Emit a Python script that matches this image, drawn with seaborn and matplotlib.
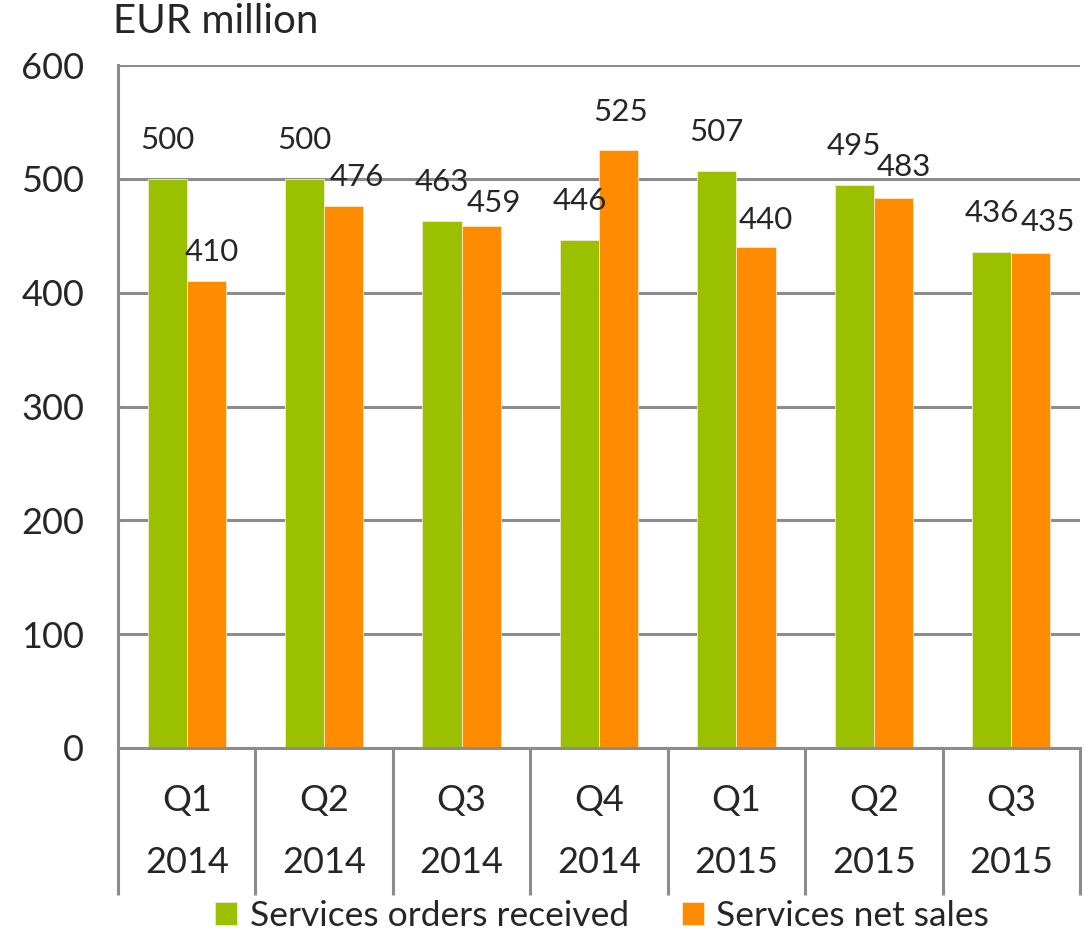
import numpy as np
import pandas as pd
import seaborn as sns
import matplotlib.pyplot as plt
from matplotlib.transforms import blended_transform_factory

# data
quarters = ["Q1", "Q2", "Q3", "Q4", "Q1", "Q2", "Q3"]
years = ["2014", "2014", "2014", "2014", "2015", "2015", "2015"]
orders_received = [500, 500, 463, 446, 507, 495, 436]
net_sales = [410, 476, 459, 525, 440, 483, 435]
series_names = ["Services orders received", "Services net sales"]

# label nudges (pixels) for the orange labels, as placed in the original
sales_label_dx = [5, 13, 13, 2, 10, 10, 17]
sales_label_dy = [29, 29, 23, 38, 27, 31, 31]

GREEN = "#9BC000"
ORANGE = "#FF8C00"
GRID = "#8C8C8C"

periods = [f"{q} {y}" for q, y in zip(quarters, years)]
df = pd.DataFrame({
    "period": periods * 2,
    "series": [series_names[0]] * len(periods) + [series_names[1]] * len(periods),
    "value": orders_received + net_sales,
})

sns.set_style("white")
plt.rcParams["font.family"] = ["Lato", "DejaVu Sans"]

fig = plt.figure(figsize=(10.89, 9.33), dpi=100)
ax = fig.add_axes([0.1084, 0.1983, 0.9917 - 0.1084, 0.9303 - 0.1983])

sns.barplot(data=df, x="period", y="value", hue="series",
            palette=[GREEN, ORANGE], width=0.57, gap=0, ax=ax,
            edgecolor="#F4E9C8", linewidth=0.6, saturation=1)

ax.set_xlim(-0.5, len(periods) - 0.5)
ax.set_ylim(0, 600)
ax.set_yticks(range(0, 601, 100))
ax.yaxis.grid(True, color=GRID, linewidth=2.2)
ax.set_axisbelow(True)
ax.tick_params(axis="y", length=9.4, width=2.2, color=GRID, pad=15, labelsize=26)
ax.set_xticks([])
ax.set_xlabel("")
ax.set_ylabel("")
for side in ["top", "right"]:
    ax.spines[side].set_visible(False)
for side in ["left", "bottom"]:
    ax.spines[side].set_color(GRID)
    ax.spines[side].set_linewidth(2.2)

# category separators below the axis
trans = blended_transform_factory(ax.transData, ax.transAxes)
for b in np.arange(-0.5, len(periods), 1.0):
    ax.plot([b, b], [0, -0.215], transform=trans, color=GRID, lw=2.2,
            clip_on=False, solid_capstyle="butt")
for i, (q, y) in enumerate(zip(quarters, years)):
    ax.text(i, -0.077, q, transform=trans, ha="center", va="center", fontsize=26)
    ax.text(i, -0.168, y, transform=trans, ha="center", va="center", fontsize=26)

# value labels
px = 0.72
green_bars, orange_bars = ax.containers[0], ax.containers[1]
for i, bar in enumerate(green_bars):
    x = bar.get_x() + bar.get_width() / 2
    ax.annotate(f"{orders_received[i]}", (x, bar.get_height()),
                xytext=(0, 39 * px), textcoords="offset points",
                ha="center", va="center", fontsize=22.5)
for i, bar in enumerate(orange_bars):
    x = bar.get_x() + bar.get_width() / 2
    ax.annotate(f"{net_sales[i]}", (x, bar.get_height()),
                xytext=(sales_label_dx[i] * px, sales_label_dy[i] * px),
                textcoords="offset points",
                ha="center", va="center", fontsize=22.5)

fig.text(0.104, 0.977, "EUR million", ha="left", va="center", fontsize=29)

handles, labels = ax.get_legend_handles_labels()
ax.legend_.remove()
fig.legend(handles, labels, loc="center", bbox_to_anchor=(0.553, 0.018),
           ncol=2, frameon=False, fontsize=25.5, handlelength=0.62,
           handleheight=0.62, handletextpad=0.35, columnspacing=1.5,
           borderpad=0, borderaxespad=0)

fig.savefig("out.png", dpi=100)
